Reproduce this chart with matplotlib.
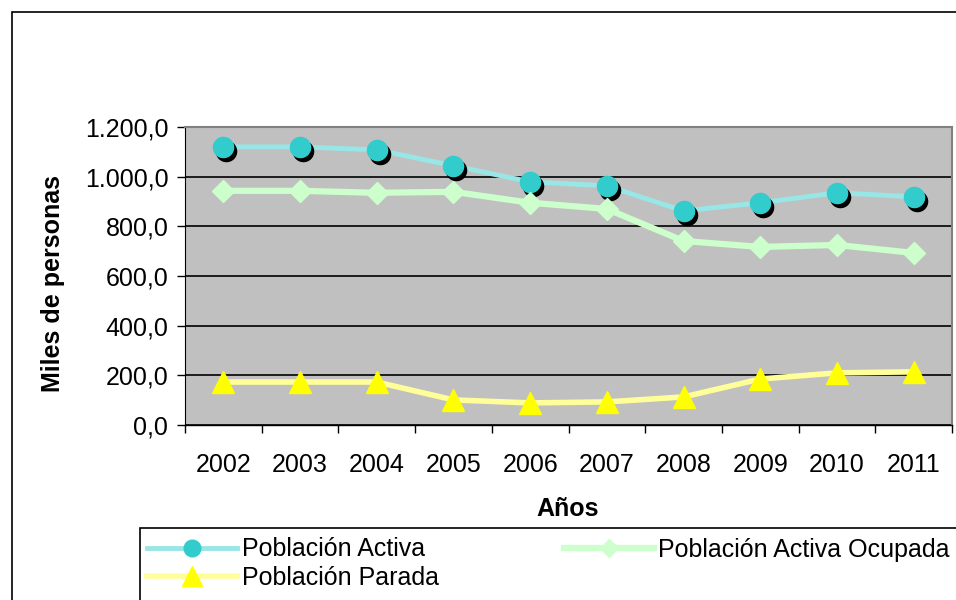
import numpy as np
import matplotlib
matplotlib.use('Agg')
import matplotlib.pyplot as plt
import matplotlib.transforms as mtransforms
from matplotlib.patches import Rectangle
from matplotlib.lines import Line2D
from matplotlib.ticker import FuncFormatter, FixedLocator

plt.rcParams['font.family'] = ['Liberation Sans', 'DejaVu Sans']

years = ['2002', '2003', '2004', '2005', '2006', '2007', '2008', '2009', '2010', '2011']
activa = [1120, 1120, 1108, 1044, 979, 963, 862, 895, 935, 919]
ocupada = [943, 943, 935, 939, 895, 870, 741, 717, 725, 693]
parada = [173, 173, 173, 101, 89, 93, 113, 185, 210, 214]
yticks = [0, 200, 400, 600, 800, 1000, 1200]

W, H = 956, 600
FS = 18


def fx(px):
    return px / W


def fy(py):
    return 1 - py / H


fig = plt.figure(figsize=(W / 100, H / 100), dpi=100)
fig.patch.set_facecolor('white')

# outer chart border
fig.patches.append(Rectangle((fx(12), fy(700)), fx(1000), fy(12) - fy(700),
                             transform=fig.transFigure, fill=False,
                             edgecolor='black', lw=1.2, zorder=0))

ax = fig.add_axes([fx(185), fy(425), fx(952) - fx(185), fy(127) - fy(425)])
ax.set_facecolor('#c0c0c0')
x = np.arange(len(years))

ax.set_xlim(-0.5, len(years) - 0.5)
ax.set_ylim(0, 1200)
ax.yaxis.set_major_locator(FixedLocator(yticks))
ax.yaxis.set_major_formatter(FuncFormatter(
    lambda v, p: '{:,.1f}'.format(v).replace(',', 'X').replace('.', ',').replace('X', '.')))
ax.grid(axis='y', color='black', lw=1.2, zorder=1)
ax.set_axisbelow(True)

ax.set_xticks(x)
ax.set_xticklabels(years)
ax.set_xticks(np.arange(-0.5, len(years)), minor=True)
ax.tick_params(axis='x', which='major', length=0, pad=20, labelsize=FS)
ax.tick_params(axis='x', which='minor', length=6, width=1, direction='out')
ax.tick_params(axis='y', length=6, width=1, direction='out', pad=6, labelsize=FS)

for side in ['top', 'right', 'bottom']:
    ax.spines[side].set_color('#808080')
    ax.spines[side].set_linewidth(1.5)
ax.spines['left'].set_color('black')
ax.spines['bottom'].set_color('black')
ax.spines['bottom'].set_linewidth(1.0)

shadow = mtransforms.offset_copy(ax.transData, fig=fig, x=3, y=-4, units='dots')

c_act_line, c_act = '#99e6e6', '#33cccc'
c_ocu_line, c_ocu = '#ccffcc', '#ccffcc'
c_par_line, c_par = '#ffff99', '#ffff00'

ax.plot(x, activa, color=c_act_line, lw=3.5, zorder=3)
ax.plot(x, activa, ls='none', marker='o', ms=14.5, color='black', zorder=4,
        transform=shadow)
ax.plot(x, activa, ls='none', marker='o', ms=14.5, color=c_act, zorder=5)

ax.plot(x, ocupada, color=c_ocu_line, lw=4.5, zorder=3)
ax.plot(x, ocupada, ls='none', marker='D', ms=11.5, color=c_ocu, zorder=5)

ax.plot(x, parada, color=c_par_line, lw=4, zorder=3)
ax.plot(x, parada, ls='none', marker='^', ms=16, color=c_par, zorder=5)

fig.text(fx(53), fy(283), 'Miles de personas', rotation=90, ha='center',
         va='center', fontsize=FS, fontweight='bold')
fig.text(fx(568), fy(509), 'Años', ha='center', va='center', fontsize=FS,
         fontweight='bold')

# legend box
fig.patches.append(Rectangle((fx(140), fy(700)), fx(1000), fy(528) - fy(700),
                             transform=fig.transFigure, fill=False,
                             edgecolor='black', lw=1.2, zorder=0))
h_act = Line2D([], [], color=c_act_line, lw=3.5, marker='o', ms=12,
               mfc=c_act, mec=c_act)
h_ocu = Line2D([], [], color=c_ocu_line, lw=4.5, marker='D', ms=9,
               mfc=c_ocu, mec=c_ocu)
h_par = Line2D([], [], color=c_par_line, lw=4, marker='^', ms=15,
               mfc=c_par, mec=c_par)
fig.legend([h_act, h_par, h_ocu],
           ['Población Activa', 'Población Parada', 'Población Activa Ocupada'],
           ncol=2, loc='upper left', bbox_to_anchor=(fx(144), fy(535)),
           frameon=False, fontsize=FS, handlelength=3.6, handletextpad=0.2,
           columnspacing=5.0, labelspacing=0.18, borderpad=0.1,
           borderaxespad=0)

fig.savefig('out.png', dpi=100)
